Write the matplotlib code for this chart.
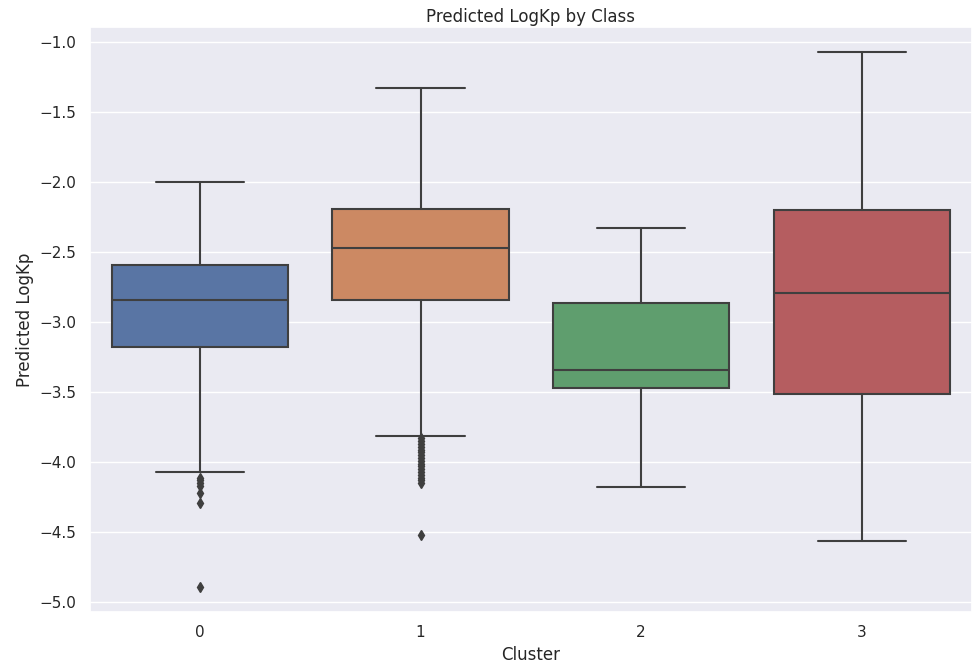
import matplotlib
matplotlib.use("Agg")
import matplotlib.pyplot as plt
import seaborn as sns

# Box statistics (Predicted LogKp per cluster)
clusters = ["0", "1", "2", "3"]
whisker_low = [-4.07, -3.81, -4.18, -4.56]
q1 = [-3.18, -2.84, -3.47, -3.51]
median = [-2.84, -2.47, -3.34, -2.79]
q3 = [-2.59, -2.19, -2.86, -2.20]
whisker_high = [-2.00, -1.33, -2.33, -1.07]
outliers = [
    [-4.11, -4.13, -4.15, -4.17, -4.22, -4.29, -4.89],
    [-3.83, -3.85, -3.87, -3.89, -3.91, -3.93, -3.95, -3.97, -3.99,
     -4.01, -4.03, -4.05, -4.07, -4.09, -4.11, -4.13, -4.15, -4.52],
    [],
    [],
]
box_colors = ["#5975a4", "#cc8963", "#5f9e6e", "#b55d60"]

sns.set_theme(style="darkgrid")

fig = plt.figure(figsize=(9.75, 6.66), dpi=100)
ax = fig.add_axes([0.092, 0.081, 0.905, 0.878])

stats = []
for i in range(len(clusters)):
    stats.append({
        "label": clusters[i],
        "whislo": whisker_low[i],
        "q1": q1[i],
        "med": median[i],
        "q3": q3[i],
        "whishi": whisker_high[i],
        "fliers": outliers[i],
    })

line_col = "#3f3f3f"
bp = ax.bxp(
    stats,
    positions=range(len(clusters)),
    widths=0.8,
    patch_artist=True,
    boxprops=dict(edgecolor=line_col, linewidth=1.5),
    medianprops=dict(color=line_col, linewidth=1.5),
    whiskerprops=dict(color=line_col, linewidth=1.5),
    capprops=dict(color=line_col, linewidth=1.5),
    flierprops=dict(marker="d", markerfacecolor=line_col, markeredgecolor=line_col,
                    markersize=5),
    capwidths=0.4,
)
for patch, col in zip(bp["boxes"], box_colors):
    patch.set_facecolor(col)

ax.set_xlim(-0.5, 3.5)
ax.set_ylim(-5.07, -0.893)
ax.set_xticks(range(len(clusters)))
ax.set_xticklabels(clusters)
ax.xaxis.grid(False)
ax.set_xlabel("Cluster")
ax.set_ylabel("Predicted LogKp")
ax.set_title("Predicted LogKp by Class", pad=4)

fig.savefig("out.png", dpi=100)
